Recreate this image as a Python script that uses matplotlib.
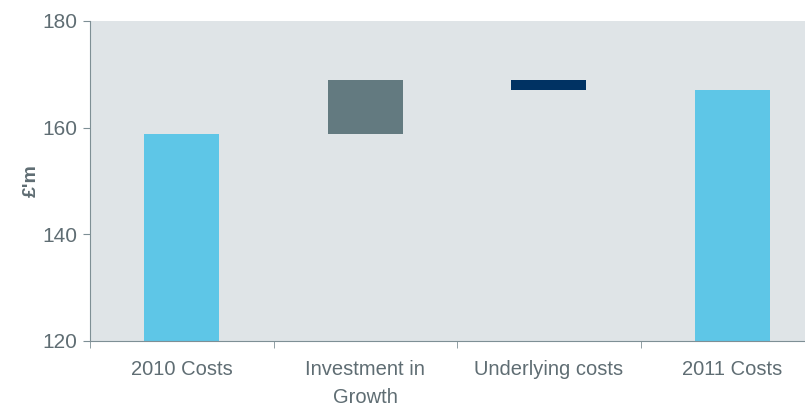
import matplotlib.pyplot as plt
import numpy as np

plt.rcParams['font.family'] = ['Liberation Sans', 'DejaVu Sans']

# Cost bridge data (GBP millions)
categories = ['2010 Costs', 'Investment in\nGrowth', 'Underlying costs', '2011 Costs']
start_2010 = 158.8
investment = 10.1
underlying = -1.8
end_2011 = 167.1

bottoms = [120, start_2010, start_2010 + investment + underlying, 120]
heights = [start_2010 - 120, investment, -underlying, end_2011 - 120]
colors = ['#5ec6e7', '#637a80', '#003263', '#5ec6e7']

text_col = '#5f6d73'
axis_col = '#7e8f95'

fig = plt.figure(figsize=(8.05, 4.09), dpi=100)
# axes run past the right edge of the figure
ax = fig.add_axes([90 / 805, 68 / 409, 734 / 805, 320 / 409])
ax.set_facecolor('#dfe4e7')

x = np.arange(len(categories))
ax.bar(x, heights, bottom=bottoms, width=0.41, color=colors, zorder=2)

ax.set_xlim(-0.5, len(categories) - 0.5)
ax.set_ylim(120, 180)
ax.set_yticks([120, 140, 160, 180])
ax.set_xticks(x)
ax.set_xticklabels(categories, fontsize=14.5, color=text_col, linespacing=1.6)
ax.set_xticks(np.arange(-0.5, len(categories)), minor=True)
ax.tick_params(axis='x', which='major', length=0, pad=14)
ax.tick_params(axis='x', which='minor', length=5, color=axis_col, direction='out')
ax.tick_params(axis='y', length=5, color=axis_col, labelsize=15, labelcolor=text_col, pad=4)

for side in ['top', 'right']:
    ax.spines[side].set_visible(False)
for side in ['left', 'bottom']:
    ax.spines[side].set_color(axis_col)

ax.set_ylabel("£'m", fontsize=14, fontweight='bold', color=text_col, labelpad=2)

fig.savefig('out.png', dpi=100)
